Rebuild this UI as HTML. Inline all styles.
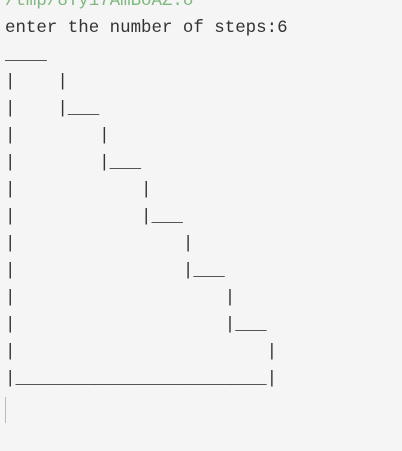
<!DOCTYPE html>
<html><head><style>
html,body{margin:0;padding:0;background:#f5f5f5;width:402px;height:451px;overflow:hidden}
pre{margin:0;position:absolute;left:5px;top:-12px;font-family:"Liberation Mono","DejaVu Sans Mono",monospace;font-size:17.45px;line-height:27px;color:#333}
.g{color:#7fb87f}
.cur{position:absolute;left:5px;top:397px;width:1px;height:26px;background:#bbb}
</style></head><body>
<pre><span class="g">/tmp/8Ty17AmBoAZ.o</span>
enter the number of steps:6
____
|    |
|    |___
|        |
|        |___
|            |
|            |___
|                |
|                |___
|                    |
|                    |___
|                        |
|________________________|</pre>
<div class="cur"></div>
</body></html>
